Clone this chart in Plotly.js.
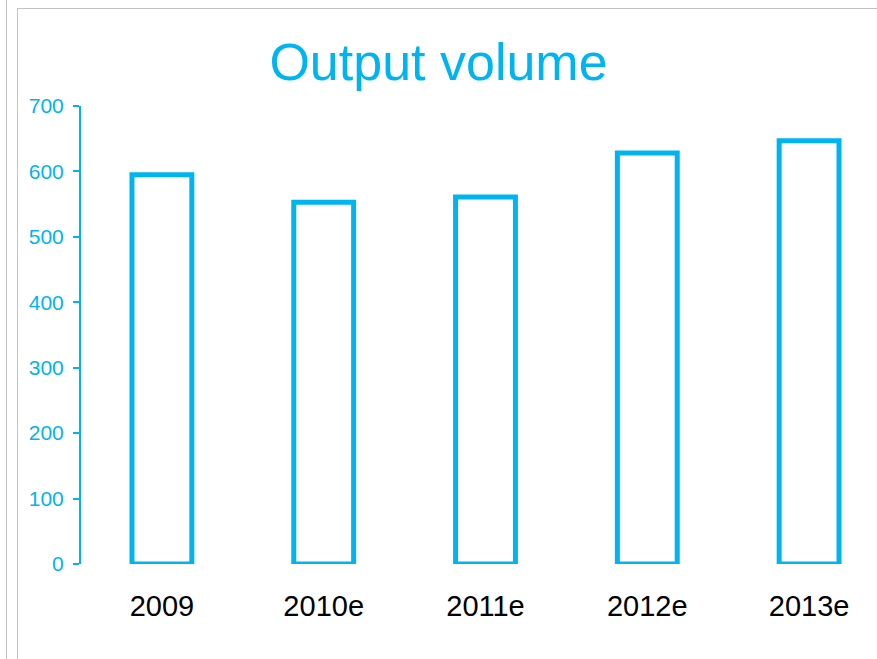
<!DOCTYPE html>
<html>
<head>
<meta charset="utf-8">
<script src="https://cdn.plot.ly/plotly-3.0.1.min.js"></script>
<style>
html,body{margin:0;padding:0;width:877px;height:659px;overflow:hidden;background:#fff;}
#chart{position:absolute;left:0;top:0;width:910px;height:659px;}
.ln{position:absolute;background:#c3c3c3;pointer-events:none;}
</style>
</head>
<body>
<div id="chart"></div>
<div class="ln" style="left:6px;top:0;width:1px;height:659px;"></div>
<div class="ln" style="left:17px;top:8px;width:1px;height:651px;"></div>
<div class="ln" style="left:17px;top:8px;width:860px;height:1px;"></div>
<script>
const categories = ["2009", "2010e", "2011e", "2012e", "2013e"];
const outputVolume = [595, 553, 561, 628, 647];
const yTicks = [0, 100, 200, 300, 400, 500, 600, 700];

const blue = "#00B4F0";

Plotly.newPlot("chart", [{
  type: "bar",
  x: categories,
  y: outputVolume,
  width: 0.37,
  marker: {color: "#ffffff", line: {color: blue, width: 5}},
  hoverinfo: "skip"
}], {
  width: 910,
  height: 659,
  margin: {l: 81, r: 20, t: 106, b: 95},
  paper_bgcolor: "rgba(0,0,0,0)",
  plot_bgcolor: "rgba(0,0,0,0)",
  showlegend: false,
  title: {
    text: "Output volume",
    font: {family: "Liberation Sans, Arial, sans-serif", size: 52, color: blue},
    x: 438.5/910, xanchor: "center",
    y: 1 - 62/659, yanchor: "middle"
  },
  xaxis: {
    type: "category",
    range: [-0.5, 4.5],
    showline: false, showgrid: false, zeroline: false,
    ticks: "",
    tickfont: {family: "Liberation Sans, Arial, sans-serif", size: 29, color: "#000000"},
    ticklabelstandoff: 22
  },
  yaxis: {
    range: [0, 700],
    tickvals: yTicks,
    ticktext: yTicks.map(String),
    showline: true, linecolor: blue, linewidth: 2,
    showgrid: false, zeroline: false,
    ticks: "outside", ticklen: 6, tickwidth: 2, tickcolor: blue,
    tickfont: {family: "Liberation Sans, Arial, sans-serif", size: 21, color: blue},
    ticklabelstandoff: 5
  }
}, {displayModeBar: false, staticPlot: true});
</script>
</body>
</html>
